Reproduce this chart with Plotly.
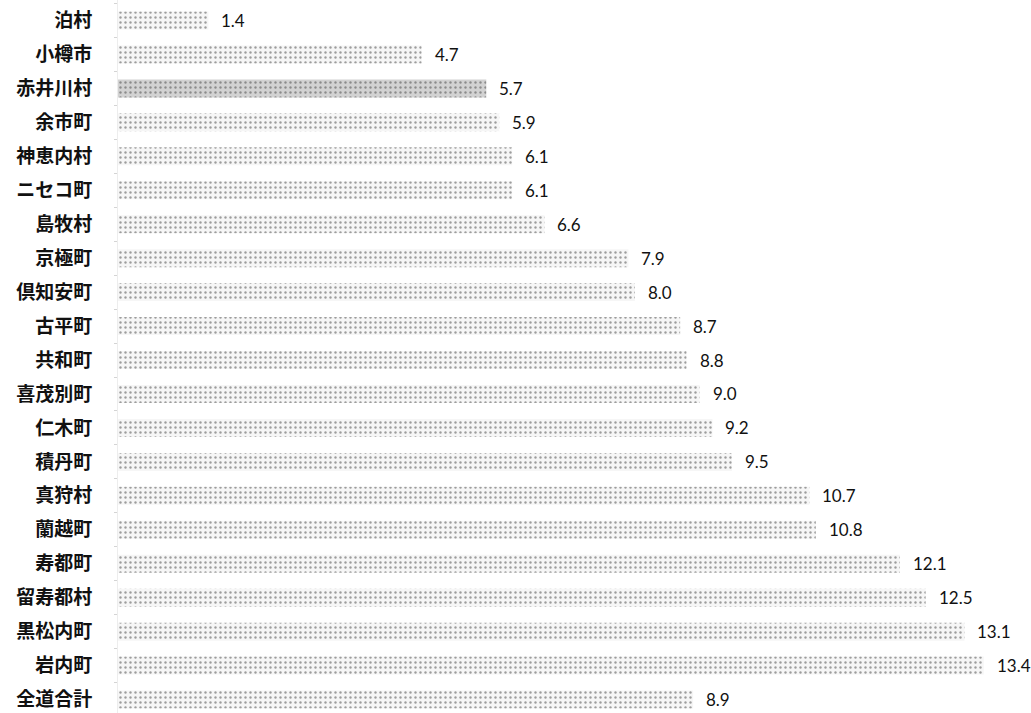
import plotly.graph_objects as go

categories = ["泊村", "小樽市", "赤井川村", "余市町", "神恵内村", "ニセコ町", "島牧村", "京極町",
              "倶知安町", "古平町", "共和町", "喜茂別町", "仁木町", "積丹町", "真狩村", "蘭越町",
              "寿都町", "留寿都村", "黒松内町", "岩内町", "全道合計"]
values = [1.4, 4.7, 5.7, 5.9, 6.1, 6.1, 6.6, 7.9, 8.0, 8.7, 8.8, 9.0, 9.2, 9.5, 10.7, 10.8,
          12.1, 12.5, 13.1, 13.4, 8.9]
highlight = "赤井川村"

bg = ["#d2d2d2" if c == highlight else "#f6f6f6" for c in categories]
fg = ["#959595" if c == highlight else "#b0b0b0" for c in categories]

fig = go.Figure()
fig.add_trace(go.Bar(
    x=values, y=categories, orientation="h",
    marker=dict(color=bg, line=dict(width=0),
                pattern=dict(shape=".", fgcolor=fg, bgcolor=bg, size=5, solidity=0.18,
                             fillmode="overlay")),
    hoverinfo="skip", showlegend=False,
))

for c, v in zip(categories, values):
    fig.add_annotation(x=v, y=c, text=f"{v:.1f}", showarrow=False, xanchor="left",
                       xshift=11, yshift=0,
                       font=dict(family="Lato, Open Sans, sans-serif", size=17, color="#111"))

spacing = 713 / 21.0
r0 = -20.5 / spacing
r1 = r0 + 713 / spacing

fig.update_layout(
    width=1031, height=713,
    margin=dict(l=118, r=0, t=0, b=0),
    plot_bgcolor="white", paper_bgcolor="white",
    bargap=0.47,
    xaxis=dict(range=[0, 14.13], visible=False, fixedrange=True),
    yaxis=dict(type="category", categoryorder="array", categoryarray=categories,
               range=[r1, r0], showgrid=False, zeroline=False,
               showline=True, linecolor="#ededed", linewidth=1,
               ticks="outside", tickson="boundaries", ticklen=3, tickcolor="#d4d4d4",
               tickfont=dict(family="Noto Sans CJK JP", size=19, color="#111", weight="bold"),
               ticklabelstandoff=21),
)

fig.write_html("out.html")
